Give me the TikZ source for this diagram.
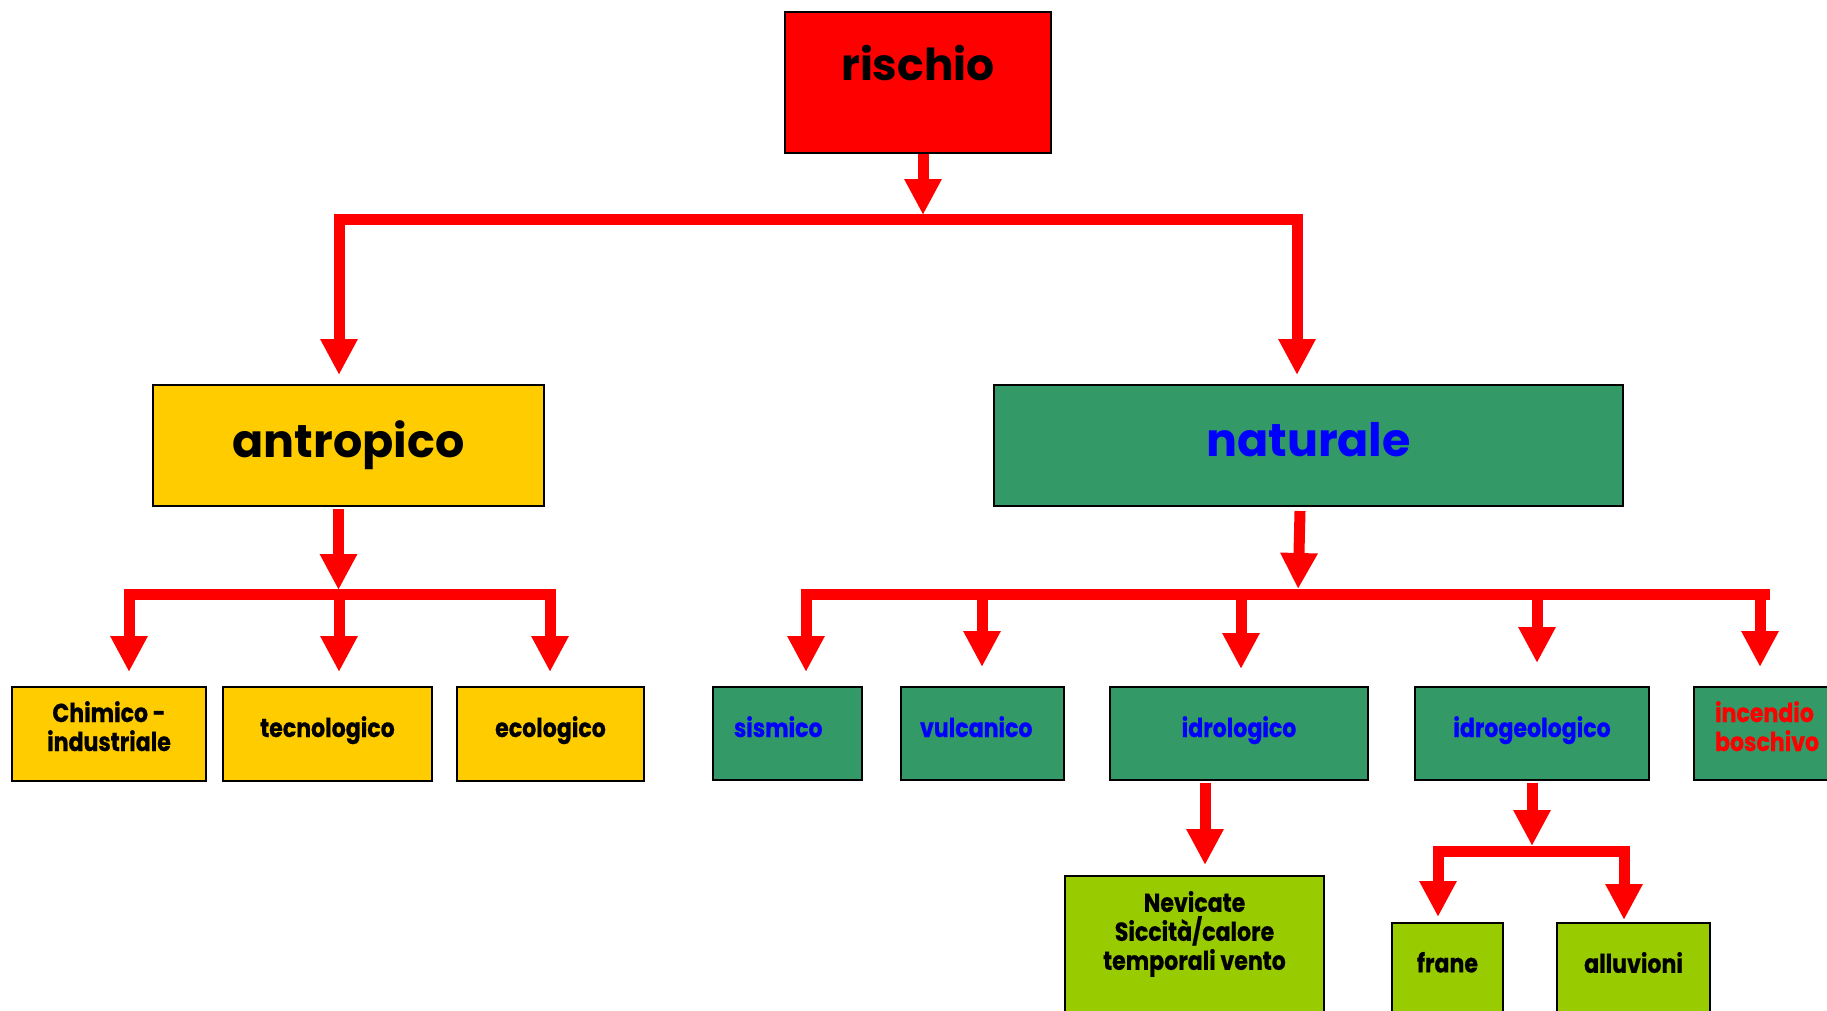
\documentclass[tikz,border=0pt]{standalone}
\usepackage{fontspec}
\setmainfont{Poppins}
\newfontfamily\smallf{Poppins}[FakeStretch=0.85,FakeBold=0.6]
\usetikzlibrary{arrows.meta}
\definecolor{rred}{HTML}{FF0000}
\definecolor{yel}{HTML}{FFCC00}
\definecolor{grn}{HTML}{339966}
\definecolor{lgr}{HTML}{99CC00}
\definecolor{blu}{HTML}{0000FF}
\newcommand\mytop[4]{\parbox[c][#2][t]{#1}{\centering\vspace*{#3}#4\par}}
\newcommand\myat[2]{\raisebox{#1}[0pt][0pt]{#2}}
\begin{document}
\begin{tikzpicture}[x=1pt,y=-1pt,
  box/.style={draw=black,line width=2pt,inner sep=0pt},
  bigfont/.style={font=\bfseries\fontsize{46}{50}\selectfont},
  smfont/.style={font=\smallf\bfseries\fontsize{26}{29}\selectfont},
  ybox/.style={box,fill=yel,minimum height=94pt,smfont,align=center},
  gbox/.style={box,fill=grn,minimum height=93pt,text=blu,smfont,align=center},
  lbox/.style={box,fill=lgr,anchor=north west,smfont},
  arr/.style={draw=rred,line width=11pt,-{Triangle[width=35pt,length=36pt]}},
  bar/.style={draw=rred,line width=11pt,line cap=rect}]
\useasboundingbox (0,0) rectangle (1827,1010);
\clip (0,0) rectangle (1827,1010);

% nodes
\node[box,fill=rred,anchor=north west,font=\bfseries\fontsize{44}{50}\selectfont] (rischio) at (784,10.5) {\mytop{266pt}{141pt}{34pt}{rischio}};
\node[box,fill=yel,minimum width=391pt,minimum height=121pt,bigfont] (antropico) at (348.5,445.5) {antropico};
\node[box,fill=grn,minimum width=629pt,minimum height=121pt,text=blu,bigfont] (naturale) at (1308.5,445.5) {\myat{-11pt}{naturale}};

\node[ybox,minimum width=194pt] (chim) at (109,734) {\myat{-17pt}{\parbox[b]{190pt}{\centering Chimico -\\industriale}}};
\node[ybox,minimum width=209pt] (tecn) at (327.5,734) {\myat{-3pt}{tecnologico}};
\node[ybox,minimum width=187pt] (eco) at (550.5,734) {\myat{-3pt}{ecologico}};

\node[gbox] (sism) at (787.5,733.5) {\makebox[149pt][l]{\hspace{21pt}\myat{-3.5pt}{sismico}}};
\node[gbox] (vulc) at (982.5,733.5) {\makebox[163pt][l]{\hspace{19pt}\myat{-3.5pt}{vulcanico}}};
\node[gbox,minimum width=258pt] (idro) at (1239,733.5) {\myat{-3.5pt}{idrologico}};
\node[gbox,minimum width=234pt] (idrog) at (1532,733.5) {\myat{-3.5pt}{idrogeologico}};
\node[gbox,text=rred] (inc) at (1769,733.5) {\makebox[150pt][l]{\hspace{21pt}\myat{-17.5pt}{\parbox[b]{125pt}{\raggedright incendio\\boschivo}}}};

\node[lbox] (nev) at (1064,875) {\mytop{259pt}{150pt}{15pt}{Nevicate\\Siccità/calore\\temporali vento}};
\node[lbox] (frane) at (1391,922) {\mytop{111pt}{110pt}{29pt}{frane}};
\node[lbox] (allu) at (1556,922) {\mytop{153pt}{110pt}{29pt}{alluvioni}};

% junction coordinates
\coordinate (b1c) at (923,219);
\coordinate (b1l) at (339,219);
\coordinate (b1r) at (1297,219);
\coordinate (b2c) at (338.5,594);
\coordinate (b2l) at (129,594);
\coordinate (b2m) at (339,594);
\coordinate (b2r) at (550,594);
\coordinate (b3c) at (1298,594);
\coordinate (b3a) at (806,594);
\coordinate (b3b) at (982,594);
\coordinate (b3d) at (1241,594);
\coordinate (b3e) at (1537,594);
\coordinate (b3f) at (1760,594);
\coordinate (b3r) at (1764,594);
\coordinate (b4c) at (1532,851);
\coordinate (b4l) at (1438,851);
\coordinate (b4r) at (1624,851);

% level 1
\draw[bar] (b1l) -- (b1r);
\draw[arr,shorten >=4pt] (rischio.south -| b1c) -- (b1c);
\draw[arr,shorten >=9pt] (b1l) -- (b1l |- antropico.north);
\draw[arr,shorten >=9pt] (b1r) -- (b1r |- naturale.north);

% antropico
\draw[bar] (b2l) -- (b2r);
\draw[arr,shorten >=4pt] ([yshift=-2pt]antropico.south -| b2c) -- (b2c);
\draw[arr,shorten >=14pt] (b2l) -- (b2l |- chim.north);
\draw[arr,shorten >=14pt] (b2m) -- (b2m |- tecn.north);
\draw[arr,shorten >=14pt] (b2r) -- (b2r |- eco.north);

% naturale
\draw[bar] (b3a) -- (b3r);
\draw[arr,shorten >=5pt] ([xshift=-8.5pt,yshift=-4pt]naturale.south) -- (b3c);
\draw[arr,shorten >=14pt] (b3a) -- (b3a |- sism.north);
\draw[arr,shorten >=19pt] (b3b) -- (b3b |- vulc.north);
\draw[arr,shorten >=17pt] (b3d) -- (b3d |- idro.north);
\draw[arr,shorten >=23pt] (b3e) -- (b3e |- idrog.north);
\draw[arr,shorten >=19pt] (b3f) -- (b3f |- inc.north);

% idrologico
\draw[arr,shorten >=10pt] ([xshift=10.5pt,yshift=-2pt]nev.north |- idro.south) -- ([xshift=10.5pt]nev.north);

% idrogeologico
\draw[bar] (b4l) -- (b4r);
\draw[arr,shorten >=5pt] ([yshift=-2pt]idrog.south) -- (b4c);
\draw[arr,shorten >=5pt] (b4l) -- (b4l |- frane.north);
\draw[arr,shorten >=2pt] (b4r) -- (b4r |- allu.north);
\end{tikzpicture}
\end{document}
